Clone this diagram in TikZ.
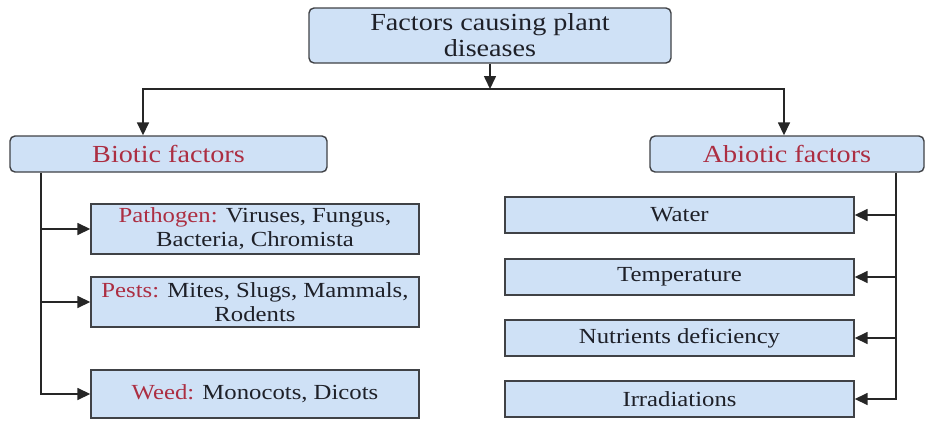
\documentclass[tikz,border=0pt]{standalone}
\usepackage{xcolor}
\usepackage{fontspec}
\setmainfont{Liberation Serif}[FakeStretch=1.15]
\usepackage{tikz}
\usetikzlibrary{arrows.meta}
\usetikzlibrary{positioning}
\usetikzlibrary{calc}
\definecolor{boxblue}{RGB}{207,225,246}
\definecolor{factred}{RGB}{172,46,66}
\definecolor{boxline}{RGB}{64,66,70}
\definecolor{textdark}{RGB}{30,32,40}
\tikzset{
  factbox/.style={draw=boxline,fill=boxblue,line width=1.4pt,inner sep=0pt,align=center,text=textdark},
  headbox/.style={factbox,rounded corners=5pt,font=\fontsize{24.5}{26}\selectfont},
  itembox/.style={factbox,font=\fontsize{21.5}{24}\selectfont},
  conn/.style={line width=1.6pt,draw=black!85},
  arr/.style={conn,-{Triangle[length=13pt,width=12pt]}}
}

\begin{document}
\begin{tikzpicture}[x=1pt,y=-1pt]
  \useasboundingbox (0,0) rectangle (927,421);
  % heads
  \node[headbox,minimum width=362pt,minimum height=55pt] (top) at (490,35.5) {Factors causing plant\\diseases};
  \node[headbox,minimum width=317pt,minimum height=36pt,text=factred] (bio) at (168.5,154) {Biotic factors};
  \node[headbox,minimum width=274pt,minimum height=36pt,text=factred] (abio) at (787,154) {Abiotic factors};
  % biotic items
  \node[itembox,minimum width=328pt,minimum height=50pt] (pathogen) at (255,229) {\textcolor{factred}{Pathogen:} Viruses, Fungus,\\Bacteria, Chromista};
  \node[itembox,minimum width=328pt,minimum height=50pt] (pests) at (255,302) {\textcolor{factred}{Pests:} Mites, Slugs, Mammals,\\Rodents};
  \node[itembox,minimum width=328pt,minimum height=48pt] (weed) at (255,394) {\textcolor{factred}{Weed:} Monocots, Dicots};
  % abiotic items
  \foreach \name/\y/\txt in {water/215/Water,temp/277/Temperature,nutr/338/Nutrients deficiency,irr/399/Irradiations}
    \node[itembox,minimum width=349pt,minimum height=36pt] (\name) at (679.5,\y) {\txt};
  % connectors
  \coordinate (bus) at (490,89);
  \coordinate (busL) at (143,89);
  \coordinate (busR) at (784,89);
  \draw[arr] (top) -- (bus);
  \draw[arr] (bus) -| (busL |- bio.north);
  \draw[arr] (bus) -| (busR |- abio.north);
  \path (bio.south) ++(-127.5,0) coordinate (trunkL);
  \path (abio.south) ++(109,0) coordinate (trunkR);
  \draw[arr] (trunkL) |- (weed.west);
  \foreach \b in {pathogen,pests}
    \draw[arr] (trunkL |- \b.west) -- (\b.west);
  \draw[arr] (trunkR) |- (irr.east);
  \foreach \b in {water,temp,nutr}
    \draw[arr] (trunkR |- \b.east) -- (\b.east);
\end{tikzpicture}
\end{document}
